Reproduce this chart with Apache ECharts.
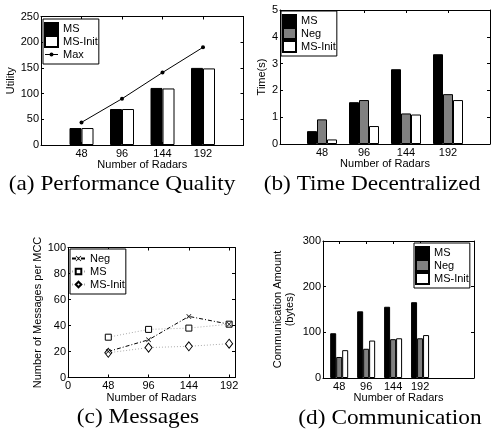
<!DOCTYPE html>
<html><head><meta charset="utf-8">
<script src="https://cdn.jsdelivr.net/npm/echarts@6/dist/echarts.min.js"></script>
<style>html,body{margin:0;padding:0;background:#fff}#c{width:491px;height:439px}</style>
</head><body><div id="c"></div>
<script>
// ---- data ----
const radars = ['48', '96', '144', '192'];
const barPos = [1, 2, 3, 4];
// (a) Performance Quality
const utilMS = [33, 70, 111, 150];
const utilMSInit = [33, 70, 110, 149];
const utilMax = [44, 90, 141, 190];
// (b) Time Decentralized
const timeMS = [0.48, 1.56, 2.79, 3.35];
const timeNeg = [0.92, 1.64, 1.14, 1.86];
const timeMSInit = [0.17, 0.67, 1.10, 1.64];
// (c) Messages
const msgX = [48, 96, 144, 192];
const msgTicks = [0, 48, 96, 144, 192];
const msgNeg = [20, 29, 47, 41];
const msgMS = [31, 37, 38, 41];
const msgMSInit = [19, 23, 24, 26];
// (d) Communication
const commMS = [98, 146, 156, 166];
const commNeg = [46, 64, 85, 87];
const commMSInit = [61, 82, 87, 94];
// captions
const captions = ['(a) Performance Quality', '(b) Time Decentralized', '(c) Messages', '(d) Communication'];

const FONT = 'Liberation Sans';
const txt = {fontFamily: FONT, fontSize: 11, color: '#000'};

const grids = [
  {left: 41, top: 16.5, width: 202.5, height: 128.5},
  {left: 280, top: 10, width: 210, height: 134},
  {left: 68, top: 247.5, width: 167, height: 130},
  {left: 323, top: 241, width: 151, height: 137}
];

function xPair(g, min, max, ticks, labels, nameGap) {
  const common = {
    type: 'value', gridIndex: g, min: min, max: max, splitLine: {show: false},
    axisLine: {show: true, onZero: false, lineStyle: {color: '#000', width: 1}},
    axisTick: {show: true, inside: true, length: 3, customValues: ticks, lineStyle: {color: '#000', width: 1}}
  };
  return [
    Object.assign({}, common, {
      position: 'bottom', name: 'Number of Radars', nameLocation: 'middle', nameGap: nameGap,
      nameTextStyle: txt,
      axisLabel: Object.assign({show: true, customValues: ticks, margin: 3,
        formatter: function (v) {
          const i = ticks.findIndex(function (t) { return Math.abs(t - v) < 1e-6; });
          return i < 0 ? '' : labels[i];
        }}, txt)
    }),
    Object.assign({}, common, {position: 'top', axisLabel: {show: false}})
  ];
}
function yPair(g, max, interval, name, nameGap) {
  const common = {
    type: 'value', gridIndex: g, min: 0, max: max, interval: interval, splitLine: {show: false},
    axisLine: {show: true, onZero: false, lineStyle: {color: '#000', width: 1}},
    axisTick: {show: true, inside: true, length: 3, lineStyle: {color: '#000', width: 1}}
  };
  return [
    Object.assign({}, common, {
      position: 'left', name: name, nameLocation: 'middle', nameGap: nameGap, nameRotate: 90,
      nameTextStyle: Object.assign({lineHeight: 12}, txt),
      axisLabel: Object.assign({margin: 2}, txt)
    }),
    Object.assign({}, common, {position: 'right', axisLabel: {show: false}})
  ];
}
function bar(g, key, name, vals, color, w) {
  return {
    type: 'bar', name: key + '|' + name, xAxisIndex: 2 * g, yAxisIndex: 2 * g,
    barWidth: w, barGap: '0%',
    data: barPos.map(function (x, i) { return [x, vals[i]]; }),
    itemStyle: {color: color, borderColor: '#000', borderWidth: 1}
  };
}
function lineS(g, key, name, xs, vals, opts) {
  return Object.assign({
    type: 'line', name: key + '|' + name, xAxisIndex: 2 * g, yAxisIndex: 2 * g,
    data: xs.map(function (x, i) { return [x, vals[i]]; })
  }, opts);
}
function legendBox(key, items, left, top, iconH) {
  return {
    orient: 'vertical', left: left, top: top, padding: [3, 1, 3, 1], itemGap: 0,
    itemWidth: 13, itemHeight: iconH, backgroundColor: '#fff', borderColor: '#000', borderWidth: 1,
    textStyle: Object.assign({lineHeight: 13}, txt), selectedMode: false,
    formatter: function (n) { return n.slice(2); },
    data: items.map(function (it) {
      const o = {name: key + '|' + it[0]};
      if (it[1]) o.icon = it[1];
      return o;
    })
  };
}

const xPath = 'path://M0,1L1,0L5,4L9,0L10,1L6,5L10,9L9,10L5,6L1,10L0,9L4,5Z';
const lineDotIcon = 'path://M0,5L13,5L13,6L0,6Z M8.5,5.5A2,2 0 1 1 4.5,5.5A2,2 0 1 1 8.5,5.5Z';

const option = {
  animation: false,
  grid: grids.map(function (g) { return Object.assign({containLabel: false}, g); }),
  xAxis: [].concat(
    xPair(0, 0, 5, barPos, radars, 12),
    xPair(1, 0, 5, barPos, radars, 12),
    xPair(2, 0, 199, msgTicks, msgTicks.map(String), 13),
    xPair(3, 0.4, 6, barPos, radars, 13)
  ),
  yAxis: [].concat(
    yPair(0, 250, 50, 'Utility', 24),
    yPair(1, 5, 1, 'Time(s)', 12),
    yPair(2, 100, 20, 'Number of Messages per MCC', 23),
    yPair(3, 300, 100, 'Communication Amount\n(bytes)', 27)
  ),
  legend: [
    legendBox('a', [['MS', 'rect'], ['MS-Init', 'rect'], ['Max', lineDotIcon]], 43, 19, 11),
    legendBox('b', [['MS', 'rect'], ['Neg', 'rect'], ['MS-Init', 'rect']], 281, 11, 11),
    legendBox('c', [['Neg'], ['MS'], ['MS-Init']], 70, 249, 7),
    legendBox('d', [['MS', 'rect'], ['Neg', 'rect'], ['MS-Init', 'rect']], 414, 243, 11)
  ],
  series: [
    bar(0, 'a', 'MS', utilMS, '#000', 12),
    bar(0, 'a', 'MS-Init', utilMSInit, '#fff', 12),
    lineS(0, 'a', 'Max', barPos, utilMax, {
      symbol: 'circle', symbolSize: 4, lineStyle: {color: '#000', width: 1},
      itemStyle: {color: '#000', borderWidth: 0}
    }),
    bar(1, 'b', 'MS', timeMS, '#000', 10),
    bar(1, 'b', 'Neg', timeNeg, '#808080', 10),
    bar(1, 'b', 'MS-Init', timeMSInit, '#fff', 10),
    lineS(2, 'c', 'MS', msgX, msgMS, {
      symbol: 'rect', symbolSize: 6, lineStyle: {color: '#aaa', width: 1, type: [1, 2]},
      itemStyle: {color: '#fff', borderColor: '#000', borderWidth: 1}
    }),
    lineS(2, 'c', 'MS-Init', msgX, msgMSInit, {
      symbol: 'diamond', symbolSize: [7, 9], lineStyle: {color: '#aaa', width: 1, type: [1, 2]},
      itemStyle: {color: '#fff', borderColor: '#000', borderWidth: 1}
    }),
    lineS(2, 'c', 'Neg', msgX, msgNeg, {
      symbol: xPath, symbolSize: 5, lineStyle: {color: '#000', width: 1, type: [4, 2, 1, 2]},
      itemStyle: {color: '#000', borderWidth: 0}
    }),
    bar(3, 'd', 'MS', commMS, '#000', 6),
    bar(3, 'd', 'Neg', commNeg, '#808080', 6),
    bar(3, 'd', 'MS-Init', commMSInit, '#fff', 6)
  ],
  graphic: [
    [captions[0], 122, 184], [captions[1], 372, 184], [captions[2], 138, 417], [captions[3], 390, 418]
  ].map(function (c) {
    return {type: 'text', x: c[1], y: c[2], scaleX: 1.06, style: {text: c[0], fontSize: 22, fontFamily: 'Liberation Serif',
      fill: '#000', align: 'center', verticalAlign: 'middle'}};
  })
};
const chart = echarts.init(document.getElementById('c'));
chart.setOption(option);
</script>
</body></html>
